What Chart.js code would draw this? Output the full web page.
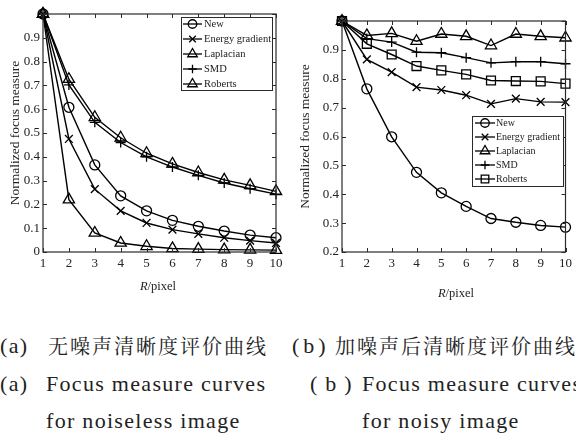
<!DOCTYPE html>
<html><head><meta charset="utf-8">
<script src="https://cdn.jsdelivr.net/npm/chart.js@4"></script>
<style>
html,body{margin:0;padding:0;width:576px;height:434px;overflow:hidden;background:#fff;}
canvas{position:absolute;top:0;}
#c1{left:0;}
#c2{left:290px;}
.xt{position:absolute;font-family:"Liberation Serif","Times New Roman",serif;font-size:12.5px;color:#222;white-space:nowrap;transform:translate(-50%,-50%);line-height:14px;}
.cap{position:absolute;white-space:nowrap;color:#222;}
.zh{font-family:"Noto Serif CJK SC","Noto Sans CJK SC",serif;font-size:20px;letter-spacing:2px;line-height:20px;top:336px;}
.en{font-family:"Liberation Serif","Times New Roman",serif;font-size:22px;letter-spacing:1.3px;line-height:22px;}
</style></head>
<body>
<canvas id="c1" width="290" height="300"></canvas>
<canvas id="c2" width="286" height="300"></canvas>
<div class="xt" style="left:158px;top:286px;"><i>R</i>/pixel</div>
<div class="xt" style="left:456px;top:293px;"><i>R</i>/pixel</div>

<div class="cap en" style="left:0;top:336px;line-height:20px;">(a)</div>
<div class="cap zh" style="left:48px;">无噪声清晰度评价曲线</div>
<div class="cap en" style="left:292px;top:336px;line-height:20px;letter-spacing:4px;">(b)</div>
<div class="cap zh" style="left:335px;">加噪声后清晰度评价曲线</div>

<div class="cap en" style="left:0;top:373px;">(a)</div>
<div class="cap en" style="left:46px;top:373px;">Focus measure curves</div>
<div class="cap en" style="left:310px;top:373px;letter-spacing:8px;">(b)</div>
<div class="cap en" style="left:362px;top:373px;">Focus measure curves</div>
<div class="cap en" style="left:46px;top:410px;">for noiseless image</div>
<div class="cap en" style="left:362px;top:410px;">for noisy image</div>

<script>
// ---------------- data ----------------
const categories = ['1','2','3','4','5','6','7','8','9','10'];
const seriesNames = ['New','Energy gradient','Laplacian','SMD','Roberts'];

// (a) noiseless image
const noiselessNew       = [1.000,0.608,0.366,0.236,0.173,0.133,0.108,0.088,0.071,0.060];
const noiselessEnergy    = [1.000,0.475,0.264,0.173,0.122,0.094,0.076,0.060,0.048,0.038];
const noiselessLaplacian = [1.000,0.726,0.566,0.480,0.415,0.370,0.334,0.303,0.280,0.255];
const noiselessSMD       = [1.000,0.702,0.545,0.460,0.400,0.357,0.322,0.290,0.266,0.243];
const noiselessRoberts   = [1.000,0.220,0.080,0.038,0.024,0.015,0.012,0.010,0.009,0.008];

// (b) noisy image
const noisyNew       = [1.000,0.765,0.599,0.476,0.405,0.358,0.316,0.303,0.292,0.286];
const noisyEnergy    = [1.000,0.867,0.823,0.771,0.761,0.743,0.713,0.731,0.720,0.719];
const noisyLaplacian = [1.000,0.950,0.957,0.930,0.955,0.947,0.915,0.955,0.947,0.942];
const noisySMD       = [1.000,0.939,0.927,0.892,0.890,0.873,0.855,0.859,0.859,0.852];
const noisyRoberts   = [1.000,0.921,0.884,0.844,0.829,0.815,0.794,0.792,0.791,0.783];

const noiselessYTickValues = [0,0.1,0.2,0.3,0.4,0.5,0.6,0.7,0.8,0.9,1.0];
const noiselessYTickLabels = ['0','0.1','0.2','0.3','0.4','0.5','0.6','0.7','0.8','0.9',''];
const noisyYTickValues = [0.2,0.3,0.4,0.5,0.6,0.7,0.8,0.9,1.0];
const noisyYTickLabels = ['0.2','0.3','0.4','0.5','0.6','0.7','0.8','0.9',''];

const yTitle = 'Normalized focus measure';
const SERIF = '"Liberation Serif", "Times New Roman", serif';

// ---------------- plugins ----------------
const framePlugin = {
  id: 'frame',
  afterDatasetsDraw(chart) {
    const {ctx, chartArea: a, scales: {x, y}} = chart;
    ctx.save();
    ctx.strokeStyle = '#2a2a2a';
    ctx.lineWidth = 1.2;
    ctx.strokeRect(a.left, a.top, a.right - a.left, a.bottom - a.top);
    ctx.lineWidth = 1;
    ctx.beginPath();
    const L = 4;
    x.ticks.forEach((t, i) => {
      const px = Math.round(x.getPixelForTick(i)) + 0.5;
      ctx.moveTo(px, a.bottom); ctx.lineTo(px, a.bottom - L);
      ctx.moveTo(px, a.top); ctx.lineTo(px, a.top + L);
    });
    y.ticks.forEach((t, i) => {
      const py = Math.round(y.getPixelForTick(i)) + 0.5;
      ctx.moveTo(a.left, py); ctx.lineTo(a.left + L, py);
      ctx.moveTo(a.right, py); ctx.lineTo(a.right - L, py);
    });
    ctx.stroke();
    ctx.restore();
  }
};

const boxLegend = {
  id: 'boxLegend',
  afterDraw(chart, args, o) {
    if (!o || o.x === undefined) return;
    const ctx = chart.ctx;
    ctx.save();
    ctx.fillStyle = '#fff';
    ctx.fillRect(o.x, o.y, o.w, o.h);
    ctx.strokeStyle = '#2a2a2a';
    ctx.lineWidth = 1;
    ctx.strokeRect(o.x + 0.5, o.y + 0.5, o.w, o.h);
    chart.data.datasets.forEach((ds, i) => {
      const cy = o.first + i * o.gap;
      ctx.strokeStyle = '#000';
      ctx.lineWidth = 1.3;
      ctx.beginPath();
      ctx.moveTo(o.lx0, cy); ctx.lineTo(o.lx1, cy);
      ctx.stroke();
      ctx.fillStyle = 'rgba(0,0,0,0)';
      Chart.helpers.drawPoint(ctx, {
        pointStyle: ds.pointStyle, rotation: 0,
        radius: ds.pointRadius * 0.85, borderWidth: 1.3
      }, (o.lx0 + o.lx1) / 2, cy);
      ctx.fillStyle = '#1a1a1a';
      ctx.font = o.font + 'px ' + SERIF;
      ctx.textBaseline = 'middle';
      ctx.textAlign = 'left';
      ctx.fillText(ds.label, o.tx, cy + 0.5);
    });
    ctx.restore();
  }
};

function ds(label, data, style, r) {
  return {
    label, data,
    borderColor: '#000', borderWidth: 1.4,
    pointStyle: style, pointRadius: r, pointBorderWidth: 1.3,
    pointBorderColor: '#000', pointBackgroundColor: 'rgba(0,0,0,0)',
    tension: 0, fill: false, clip: false
  };
}

function makeChart(id, datasets, yVals, yLabels, yMin, yMax, area, legend) {
  return new Chart(document.getElementById(id), {
    type: 'line',
    data: { labels: categories, datasets },
    plugins: [framePlugin, boxLegend],
    options: {
      responsive: false, animation: false, devicePixelRatio: 1,
      layout: { padding: { left: 0, top: area.top, right: area.right, bottom: 0 } },
      plugins: { legend: { display: false }, tooltip: { enabled: false }, boxLegend: legend },
      scales: {
        x: {
          type: 'category', offset: false,
          grid: { display: false, drawTicks: false }, border: { display: false },
          ticks: { color: '#222', padding: 4, autoSkip: false, maxRotation: 0,
                   font: { family: SERIF, size: 13 } },
          afterFit(s) { s.height = 300 - area.bottom; }
        },
        y: {
          min: yMin, max: yMax,
          grid: { display: false, drawTicks: false }, border: { display: false },
          afterBuildTicks(s) { s.ticks = yVals.map(v => ({ value: v })); },
          ticks: { color: '#222', padding: 3,
                   font: { family: SERIF, size: 13 },
                   callback: (v, i) => yLabels[i] },
          title: { display: true, text: yTitle, color: '#222',
                   font: { family: SERIF, size: 13.5 },
                   padding: { top: 7, bottom: 0 } },
          afterFit(s) { s.width = area.left; }
        }
      }
    }
  });
}

makeChart('c1', [
  ds(seriesNames[0], noiselessNew, 'circle', 5),
  ds(seriesNames[1], noiselessEnergy, 'crossRot', 5.5),
  ds(seriesNames[2], noiselessLaplacian, 'triangle', 6.5),
  ds(seriesNames[3], noiselessSMD, 'cross', 5),
  ds(seriesNames[4], noiselessRoberts, 'triangle', 6.5)
], noiselessYTickValues, noiselessYTickLabels, 0, 1,
  { left: 43, top: 14, right: 14, bottom: 252 },
  { x: 181, y: 17, w: 91, h: 73, first: 24, gap: 15, lx0: 183, lx1: 202, tx: 204, font: 10.5 });

makeChart('c2', [
  ds(seriesNames[0], noisyNew, 'circle', 5),
  ds(seriesNames[1], noisyEnergy, 'crossRot', 5.5),
  ds(seriesNames[2], noisyLaplacian, 'triangle', 6.5),
  ds(seriesNames[3], noisySMD, 'cross', 5),
  ds(seriesNames[4], noisyRoberts, 'rect', 6.3)
], noisyYTickValues, noisyYTickLabels, 0.2, 1.0,
  { left: 52, top: 21, right: 9, bottom: 252 },
  { x: 182, y: 116, w: 91, h: 70, first: 123, gap: 14, lx0: 185, lx1: 205, tx: 206, font: 10 });
</script>
</body></html>
